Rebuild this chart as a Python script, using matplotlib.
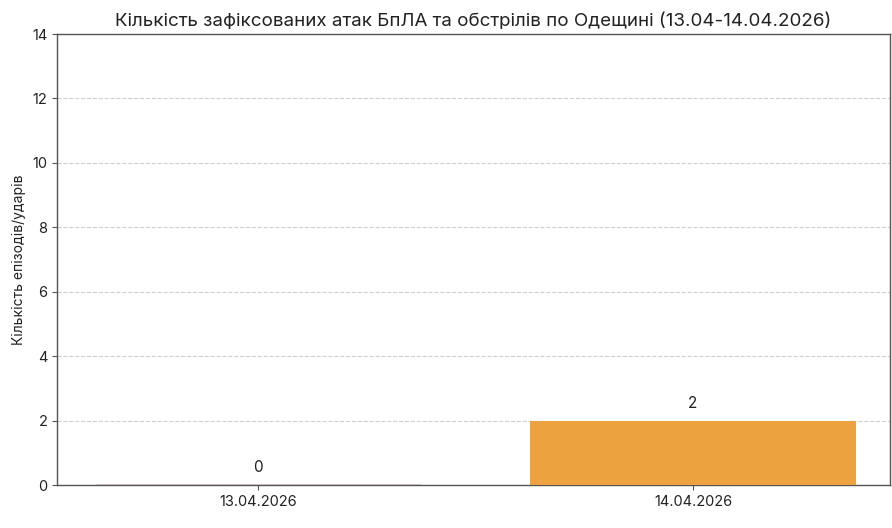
import matplotlib
matplotlib.use("Agg")
import matplotlib.pyplot as plt

dates = ["13.04.2026", "14.04.2026"]
values = [0, 2]
bar_colors = ["#8B3E2F", "#ECA23F"]
title = "Кількість зафіксованих атак БпЛА та обстрілів по Одещині (13.04-14.04.2026)"
ylabel = "Кількість епізодів/ударів"
yticks = [0, 2, 4, 6, 8, 10, 12, 14]

plt.rcParams['font.family'] = ['Inter', 'DejaVu Sans']

fig = plt.figure(figsize=(8.92, 5.28), dpi=100)
ax = fig.add_axes([0.0639, 0.0814, 0.934, 0.8542])

x = list(range(len(dates)))
bars = ax.bar(x, values, width=0.75, color=bar_colors, zorder=3)
bars[0].set_edgecolor(bar_colors[0])
bars[0].set_linewidth(1.0)

for xi, v in zip(x, values):
    ax.text(xi, v + 0.3, str(v), ha="center", va="bottom", fontsize=11, color="#222222")

ax.set_xticks(x)
ax.set_xticklabels(dates, fontsize=10.5, color="#222222")
ax.set_yticks(yticks)
ax.set_yticklabels([str(t) for t in yticks], fontsize=10.5, color="#222222")
ax.set_ylim(0, 14)
ax.set_xlim(-0.462, 1.453)
ax.set_ylabel(ylabel, fontsize=10, color="#222222")
ax.set_title(title, fontsize=13.5, color="#222222", pad=6)

ax.grid(axis="y", linestyle="--", color="#d0d0d0", linewidth=0.8, zorder=0)
for s in ax.spines.values():
    s.set_color("#555555")
    s.set_linewidth(1.0)
ax.tick_params(colors="#555555", labelcolor="#222222")

fig.savefig("out.png", dpi=100)
